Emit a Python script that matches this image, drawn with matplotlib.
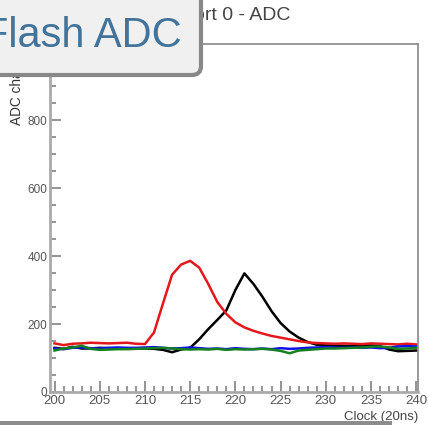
import matplotlib.pyplot as plt
import numpy as np
from matplotlib.patches import FancyBboxPatch, Rectangle
from matplotlib.ticker import MultipleLocator

plt.rcParams['font.family'] = ['Liberation Sans', 'DejaVu Sans']

# clock samples and the four ADC channels
clock = np.arange(200, 241)
red = [143, 138, 142, 143, 145, 144, 143, 144, 145, 142,
       141, 175, 261, 345, 375, 386, 366, 318, 265, 230,
       205, 190, 180, 172, 165, 160, 155, 150, 146, 144,
       143, 142, 143, 142, 141, 143, 142, 141, 140, 142, 140]
black = [130, 127, 133, 128, 128, 130, 129, 128, 129, 128,
         128, 127, 124, 117, 125, 130, 155, 185, 212, 240,
         300, 349, 318, 280, 238, 203, 178, 160, 147, 139,
         137, 136, 136, 135, 136, 137, 135, 125, 120, 121, 122]
blue = [128, 126, 130, 131, 129, 128, 130, 131, 130, 130,
        131, 132, 130, 128, 129, 131, 129, 127, 128, 126,
        129, 127, 126, 128, 126, 129, 127, 128, 130, 131,
        132, 131, 130, 131, 130, 131, 129, 130, 134, 135, 134]
green = [122, 128, 131, 136, 127, 124, 125, 126, 126, 127,
         128, 129, 130, 128, 126, 125, 126, 125, 127, 124,
         126, 125, 126, 127, 125, 121, 114, 122, 124, 126,
         128, 128, 129, 130, 131, 133, 134, 131, 127, 128, 130]

W, H = 428, 425
fig = plt.figure(figsize=(W/100, H/100), dpi=100)
ax = fig.add_axes([50/W, 33/H, 368/W, 348/H])

ax.plot(clock, black, color='black', lw=1.8)
ax.plot(clock, red, color='#e3171c', lw=1.8)
ax.plot(clock, blue, color='#1010ee', lw=1.8)
ax.plot(clock, green, color='#14801e', lw=1.8)

ax.set_xlim(199.5, 240.2)
ax.set_ylim(0, 1024)
ax.xaxis.set_major_locator(MultipleLocator(5))
ax.xaxis.set_minor_locator(MultipleLocator(1))
ax.yaxis.set_major_locator(MultipleLocator(200))
ax.yaxis.set_minor_locator(MultipleLocator(50))
ax.tick_params(which='both', direction='in', colors='#777777', width=1.1,
               top=False, right=False)
ax.tick_params(which='major', length=8)
ax.tick_params(which='minor', length=4)
ax.tick_params(axis='x', labelsize=9.5, labelcolor='#555555', pad=2)
ax.tick_params(axis='y', labelsize=8.5, labelcolor='#555555', pad=2)

for s in ['left', 'bottom']:
    ax.spines[s].set_color('#aaaaaa')
    ax.spines[s].set_linewidth(2)
for s in ['top', 'right']:
    ax.spines[s].set_color('#888888')
    ax.spines[s].set_linewidth(1.2)

fig.text(17/W, 1 - 44/H, 'ADC channel', rotation=90, ha='center', va='top',
         fontsize=9.8, color='#333333')
fig.text(418/W, 1 - 417/H, 'Clock (20ns)', ha='right', va='center',
         fontsize=9.5, color='#444444')
fig.text(290/W, 1 - 16/H, 'Port 0 - ADC', ha='right', va='center',
         fontsize=14, color='#444444')

# overlay in pixel coordinates for the caption box
ov = fig.add_axes([0, 0, 1, 1], zorder=10)
ov.set_xlim(0, W)
ov.set_ylim(H, 0)
ov.axis('off')
box = FancyBboxPatch((-30, -30), 231, 105, boxstyle='round,pad=0,rounding_size=9',
                     fc='#f0f0f0', ec='#888888', lw=3)
ov.add_patch(box)
ov.text(182, 47, 'Flash ADC', ha='right', va='baseline', fontsize=30,
        color='#41739b')
ov.add_patch(Rectangle((0, 421), 392, 10, fc='#8c8c8c', ec='none'))

fig.savefig('out.png', dpi=100)
